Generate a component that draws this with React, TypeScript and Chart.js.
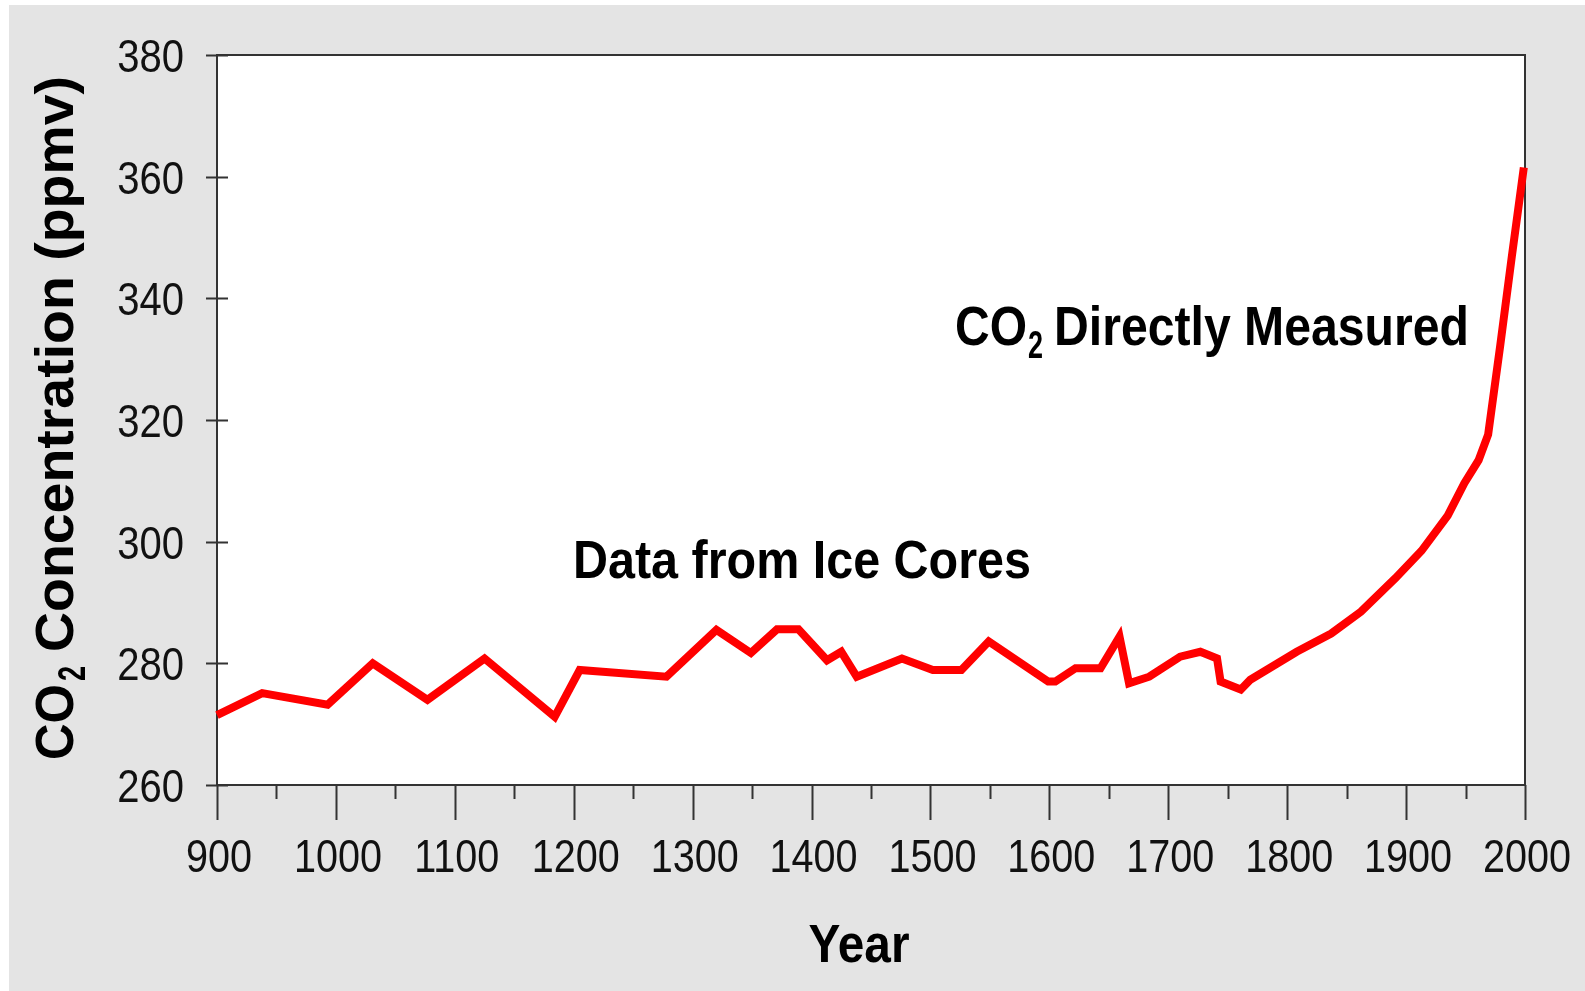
import React, { useEffect, useRef } from "react";
import { Chart, registerables } from "chart.js";

Chart.register(...registerables);

// ---- data ----
const years = [
  900, 938, 993, 1031, 1077, 1125, 1184, 1205, 1278, 1320, 1349, 1371, 1389,
  1413, 1425, 1438, 1476, 1502, 1526, 1549, 1599, 1605, 1622, 1643, 1659,
  1667, 1684, 1710, 1727, 1741, 1744, 1761, 1769, 1808, 1837, 1862, 1891,
  1913, 1935, 1949, 1961, 1969, 1979, 1989, 1999,
];
const co2 = [
  271.5, 275.1, 273.2, 280.0, 274.0, 280.8, 271.2, 278.9, 277.8, 285.5, 281.7,
  285.6, 285.6, 280.5, 281.9, 277.8, 280.8, 278.9, 278.9, 283.6, 277.0, 277.0,
  279.2, 279.2, 284.4, 276.7, 277.8, 281.1, 281.9, 280.8, 277.0, 275.7, 277.3,
  281.9, 284.9, 288.5, 294.0, 298.5, 304.3, 309.6, 313.4, 317.6, 332.0, 347.0,
  361.5,
];
const xTicks = [900, 1000, 1100, 1200, 1300, 1400, 1500, 1600, 1700, 1800, 1900, 2000];
const xMinorTicks = [950, 1050, 1150, 1250, 1350, 1450, 1550, 1650, 1750, 1850, 1950];
const yTicks = [260, 280, 300, 320, 340, 360, 380];

const xTitle = "Year";
const yTitleMain = "CO";
const yTitleSub = "2";
const yTitleRest = "Concentration (ppmv)";
const noteIce = "Data from Ice Cores";
const noteDirectMain = "CO";
const noteDirectSub = "2";
const noteDirectRest = "Directly Measured";

const W = 1585;
const H = 991;
const FONT = '"Liberation Sans", Arial, Helvetica, sans-serif';

function drawFit(
  ctx: CanvasRenderingContext2D,
  text: string,
  x: number,
  y: number,
  font: string,
  width: number,
  align: "left" | "center" | "right" = "left"
) {
  ctx.save();
  ctx.font = font;
  ctx.textAlign = "left";
  ctx.textBaseline = "alphabetic";
  const w = ctx.measureText(text).width;
  const s = width / w;
  ctx.translate(x, y);
  ctx.scale(s, 1);
  const off = align === "left" ? 0 : align === "right" ? -w : -w / 2;
  ctx.fillText(text, off, 0);
  ctx.restore();
}

function drawScaled(
  ctx: CanvasRenderingContext2D,
  text: string,
  x: number,
  y: number,
  font: string,
  sx: number,
  align: "left" | "center" | "right"
) {
  ctx.save();
  ctx.font = font;
  ctx.textAlign = "left";
  ctx.textBaseline = "alphabetic";
  const w = ctx.measureText(text).width;
  ctx.translate(x, y);
  ctx.scale(sx, 1);
  const off = align === "left" ? 0 : align === "right" ? -w : -w / 2;
  ctx.fillText(text, off, 0);
  ctx.restore();
}

const decor = {
  id: "decor",
  beforeDraw(chart: any) {
    const ctx: CanvasRenderingContext2D = chart.ctx;
    const a = chart.chartArea;
    ctx.save();
    ctx.fillStyle = "#ffffff";
    ctx.fillRect(0, 0, W, H);
    ctx.fillStyle = "#e4e4e4";
    ctx.fillRect(9, 5, W - 9, H - 5);
    ctx.fillStyle = "#ffffff";
    ctx.fillRect(a.left, a.top, a.right - a.left, a.bottom - a.top);
    ctx.restore();
  },
  beforeDatasetsDraw(chart: any) {
    const ctx: CanvasRenderingContext2D = chart.ctx;
    const a = chart.chartArea;
    const xs = chart.scales.x;
    const ys = chart.scales.y;
    ctx.save();
    // frame
    ctx.strokeStyle = "#333333";
    ctx.lineWidth = 2;
    ctx.strokeRect(a.left, a.top, a.right - a.left, a.bottom - a.top);
    // x ticks
    ctx.lineWidth = 2;
    ctx.beginPath();
    xTicks.forEach((v) => {
      const px = Math.round(xs.getPixelForValue(v)) + 0.5;
      ctx.moveTo(px, a.bottom);
      ctx.lineTo(px, a.bottom + 35);
    });
    xMinorTicks.forEach((v) => {
      const px = Math.round(xs.getPixelForValue(v)) + 0.5;
      ctx.moveTo(px, a.bottom);
      ctx.lineTo(px, a.bottom + 14);
    });
    // y ticks (crossing)
    yTicks.forEach((v) => {
      const py = Math.round(ys.getPixelForValue(v)) + 0.5;
      ctx.moveTo(a.left - 11, py);
      ctx.lineTo(a.left + 11, py);
    });
    ctx.stroke();

    ctx.fillStyle = "#111111";
    const tickFont = `46px ${FONT}`;
    xTicks.forEach((v) => {
      const px = xs.getPixelForValue(v);
      drawScaled(ctx, String(v), px + 2, 872, tickFont, 0.86, "center");
    });
    yTicks.forEach((v) => {
      const py = ys.getPixelForValue(v);
      drawScaled(ctx, String(v), 184, py + 17, tickFont, 0.87, "right");
    });

    // axis titles
    ctx.fillStyle = "#000000";
    const bold = `bold 53px ${FONT}`;
    const boldSub = `bold 38px ${FONT}`;
    drawFit(ctx, xTitle, 859, 962, bold, 101, "center");

    ctx.save();
    ctx.translate(73, 760);
    ctx.rotate(-Math.PI / 2);
    drawFit(ctx, yTitleMain, 0, 0, bold, 76, "left");
    drawFit(ctx, yTitleSub, 79, 12, boldSub, 15, "left");
    drawFit(ctx, yTitleRest, 108, 0, bold, 576, "left");
    ctx.restore();

    // annotations
    drawFit(ctx, noteIce, 573, 578, bold, 458, "left");
    const bold56 = `bold 56px ${FONT}`;
    drawFit(ctx, noteDirectMain, 955, 345, bold56, 72, "left");
    drawFit(ctx, noteDirectSub, 1028, 358, boldSub, 15, "left");
    drawFit(ctx, noteDirectRest, 1054, 345, bold56, 415, "left");
    ctx.restore();
  },
};

export default function App() {
  const ref = useRef<HTMLCanvasElement | null>(null);
  useEffect(() => {
    if (!ref.current) return;
    const chart = new Chart(ref.current, {
      type: "line",
      data: {
        datasets: [
          {
            data: years.map((y, i) => ({ x: y, y: co2[i] })),
            borderColor: "#ff0000",
            borderWidth: 8,
            pointRadius: 0,
            tension: 0,
            fill: false,
            clip: false as any,
            borderJoinStyle: "miter",
            borderCapStyle: "butt",
          },
        ],
      },
      options: {
        responsive: false,
        animation: false,
        devicePixelRatio: 1,
        layout: { padding: { left: 217, right: W - 1525, top: 55, bottom: H - 785 } },
        plugins: { legend: { display: false }, tooltip: { enabled: false } },
        scales: {
          x: { type: "linear", min: 900, max: 2000, display: false },
          y: { type: "linear", min: 260, max: 380, display: false },
        },
      },
      plugins: [decor],
    });
    return () => chart.destroy();
  }, []);
  return (
    <div style={{ position: "absolute", left: 0, top: 0, width: W, height: H }}>
      <canvas ref={ref} width={W} height={H} style={{ display: "block", width: W, height: H }} />
    </div>
  );
}
